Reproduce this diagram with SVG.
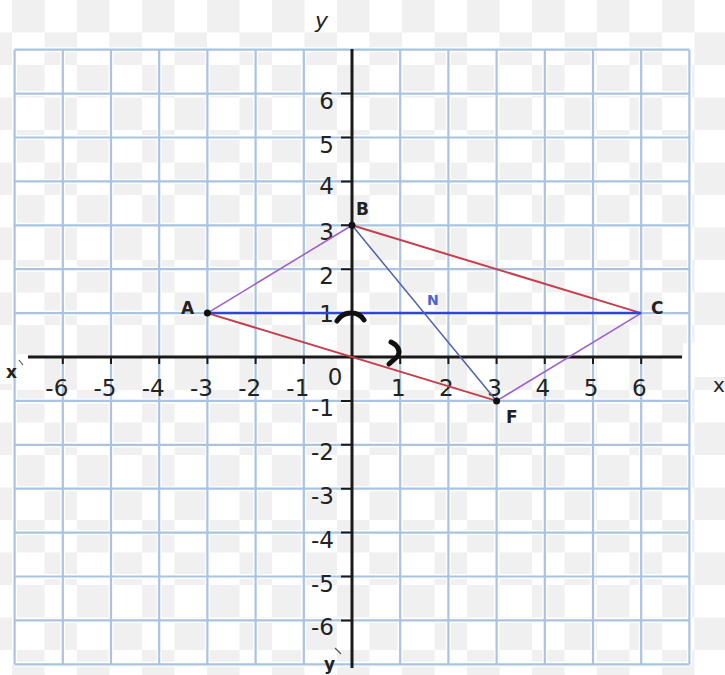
<svg xmlns="http://www.w3.org/2000/svg" width="725" height="675" viewBox="0 0 725 675">
<defs>
<pattern id="checker" patternUnits="userSpaceOnUse" x="12" y="0" width="65" height="65">
<rect x="0" y="0" width="65" height="65" fill="#ffffff"/>
<rect x="0" y="0" width="32.5" height="32.5" fill="#f0f0f0"/>
<rect x="32.5" y="32.5" width="32.5" height="32.5" fill="#f0f0f0"/>
</pattern>
</defs>
<style>
.halo{stroke:#ffffff;stroke-width:5;fill:none}
.grid{stroke:#a9c3e0;stroke-width:2.2;fill:none}
.axis{stroke:#1a1a1a;stroke-width:3;fill:none}
.tick{stroke:#1a1a1a;stroke-width:2;fill:none}
.num{font-family:"DejaVu Sans",Verdana,sans-serif;font-size:23px;fill:#222222}
.pt{font-family:"DejaVu Sans",Verdana,sans-serif;font-weight:bold;font-size:17px;fill:#222222}
.violet{stroke:#a060c8;stroke-width:1.6;fill:none}
.red{stroke:#c4404c;stroke-width:2;fill:none}
.blue{stroke:#3347c8;stroke-width:2.5;fill:none}
.blue2{stroke:#5060ac;stroke-width:1.5;fill:none}
.mark{stroke:#111111;stroke-width:5;fill:none;stroke-linecap:round;stroke-linejoin:round}
</style>
<rect x="0" y="0" width="725" height="675" fill="url(#checker)"/>
<rect x="683" y="343" width="42" height="34" fill="#ffffff"/>
<rect x="0" y="354" width="28" height="30" fill="#ffffff"/>

<g id="grid">
<path class="halo" d="M14.6,49.7V664.3M62.8,49.7V664.3M111,49.7V664.3M159.2,49.7V664.3M207.4,49.7V664.3M255.6,49.7V664.3M303.8,49.7V664.3M400.2,49.7V664.3M448.4,49.7V664.3M496.6,49.7V664.3M544.8,49.7V664.3M593,49.7V664.3M641.2,49.7V664.3M689.4,49.7V664.3
M14.6,49.7H689.4M14.6,93.6H689.4M14.6,137.5H689.4M14.6,181.4H689.4M14.6,225.3H689.4M14.6,269.2H689.4M14.6,313.1H689.4M14.6,400.9H689.4M14.6,444.8H689.4M14.6,488.7H689.4M14.6,532.6H689.4M14.6,576.5H689.4M14.6,620.4H689.4M14.6,664.3H689.4"/>
<path class="grid" d="M14.6,49.7V664.3M62.8,49.7V664.3M111,49.7V664.3M159.2,49.7V664.3M207.4,49.7V664.3M255.6,49.7V664.3M303.8,49.7V664.3M400.2,49.7V664.3M448.4,49.7V664.3M496.6,49.7V664.3M544.8,49.7V664.3M593,49.7V664.3M641.2,49.7V664.3M689.4,49.7V664.3
M14.6,49.7H689.4M14.6,93.6H689.4M14.6,137.5H689.4M14.6,181.4H689.4M14.6,225.3H689.4M14.6,269.2H689.4M14.6,313.1H689.4M14.6,400.9H689.4M14.6,444.8H689.4M14.6,488.7H689.4M14.6,532.6H689.4M14.6,576.5H689.4M14.6,620.4H689.4M14.6,664.3H689.4"/>
</g>

<g id="axes">
<path class="axis" d="M28,357H682"/>
<path class="axis" d="M352,49V668"/>
<path class="tick" d="M62.8,357v7M111,357v7M159.2,357v7M207.4,357v7M255.6,357v7M303.8,357v7M400.2,357v7M448.4,357v7M496.6,357v7M544.8,357v7M593,357v7M641.2,357v7"/>
<path class="tick" d="M341,93.6h11M341,137.5h11M341,181.4h11M341,225.3h11M341,269.2h11M341,313.1h11M341,400.9h11M341,444.8h11M341,488.7h11M341,532.6h11M341,576.5h11M341,620.4h11"/>
</g>

<g id="x-labels" class="num">
<text x="68.3" y="396" text-anchor="end">-6</text>
<text x="116.5" y="396" text-anchor="end">-5</text>
<text x="164.7" y="396" text-anchor="end">-4</text>
<text x="212.9" y="396" text-anchor="end">-3</text>
<text x="261.1" y="396" text-anchor="end">-2</text>
<text x="309.3" y="396" text-anchor="end">-1</text>
<text x="335" y="385" text-anchor="middle">0</text>
<text x="398.2" y="396" text-anchor="middle">1</text>
<text x="446.4" y="396" text-anchor="middle">2</text>
<text x="494.6" y="396" text-anchor="middle">3</text>
<text x="542.8" y="396" text-anchor="middle">4</text>
<text x="591" y="396" text-anchor="middle">5</text>
<text x="639.2" y="396" text-anchor="middle">6</text>
</g>

<g id="y-labels" class="num" text-anchor="end">
<text x="334" y="108.6">6</text>
<text x="334" y="152.5">5</text>
<text x="334" y="194.4">4</text>
<text x="334" y="240.3">3</text>
<text x="334" y="283.7">2</text>
<text x="334" y="322">1</text>
<text x="334" y="416">-1</text>
<text x="334" y="459.5">-2</text>
<text x="334" y="503.5">-3</text>
<text x="334" y="547.5">-4</text>
<text x="334" y="591.5">-5</text>
<text x="334" y="634.5">-6</text>
</g>

<g id="axis-names" font-family="'DejaVu Sans',Verdana,sans-serif" fill="#222222">
<text x="315" y="28" font-size="22" font-style="italic">y</text>
<text x="6" y="378" font-size="17" font-weight="bold">x</text>
<path d="M19,360l4,5" stroke="#555555" stroke-width="1.2" fill="none"/>
<text x="713" y="392" font-size="20">x</text>
<text x="324" y="670" font-size="17" font-weight="bold">y</text>
<path d="M335,648l6,6" stroke="#555555" stroke-width="1.2" fill="none"/>
</g>

<g id="connectors">
<line class="violet" x1="207.4" y1="313.1" x2="352" y2="225.3"/>
<line class="red" x1="352" y1="225.3" x2="641.2" y2="313.1"/>
<line class="violet" x1="641.2" y1="313.1" x2="496.6" y2="400.9"/>
<line class="red" x1="496.6" y1="400.9" x2="207.4" y2="313.1"/>
<line class="blue" x1="207.4" y1="313.1" x2="641.2" y2="313.1"/>
<line class="blue2" x1="352" y1="225.3" x2="496.6" y2="400.9"/>
</g>

<g id="marks">
<path class="mark" d="M337,321 Q342,313 351,313 Q360,313 364,320"/>
<path class="mark" d="M391,342 C397,345 401,350 398,356 L389,364"/>
</g>

<g id="node-A">
<circle cx="207.4" cy="313.1" r="3.5" fill="#111111"/>
<text class="pt" x="181" y="314">A</text>
</g>
<g id="node-B">
<circle cx="352" cy="225.3" r="3.5" fill="#111111"/>
<text class="pt" x="356" y="215">B</text>
</g>
<g id="node-C">
<text class="pt" x="651" y="314">C</text>
</g>
<g id="node-F">
<circle cx="496.6" cy="400.9" r="3.5" fill="#111111"/>
<text class="pt" x="506" y="423">F</text>
</g>
<g id="node-N">
<text x="427" y="305" font-family="'DejaVu Sans',Verdana,sans-serif" font-weight="bold" font-size="14" fill="#4a64d0">N</text>
</g>
</svg>
